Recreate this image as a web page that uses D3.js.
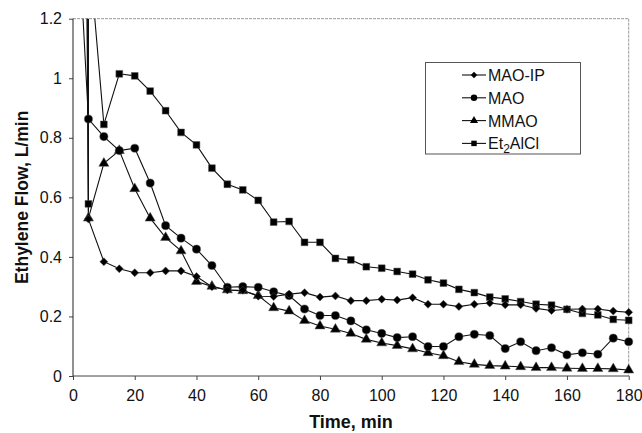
<!DOCTYPE html>
<html>
<head>
<meta charset="utf-8">
<script src="https://cdn.jsdelivr.net/npm/d3@7"></script>
<style>
  body { margin: 0; background: #fff; }
  text { font-family: "Liberation Sans", Arial, sans-serif; fill: #111; }
</style>
</head>
<body>
<div id="container"></div>
<script>
let w = 642;
let h = 433;

// sampling times (min)
let times = [5, 10, 15, 20, 25, 30, 35, 40, 45, 50, 55, 60, 65, 70, 75, 80, 85, 90,
  95, 100, 105, 110, 115, 120, 125, 130, 135, 140, 145, 150, 155, 160, 165, 170, 175, 180];

// ethylene flow, L/min
let maoIP = [0.527, 0.384, 0.36, 0.347, 0.347, 0.353, 0.353, 0.334, 0.30, 0.289, 0.288, 0.268,
  0.267, 0.275, 0.28, 0.265, 0.269, 0.253, 0.253, 0.258, 0.255, 0.263, 0.241, 0.241,
  0.233, 0.241, 0.245, 0.239, 0.239, 0.227, 0.22, 0.224, 0.225, 0.225, 0.218, 0.214];
let mao = [0.863, 0.804, 0.757, 0.765, 0.648, 0.505, 0.463, 0.426, 0.371, 0.298, 0.30, 0.298,
  0.283, 0.27, 0.225, 0.203, 0.203, 0.185, 0.155, 0.143, 0.129, 0.132, 0.099, 0.099,
  0.132, 0.14, 0.136, 0.092, 0.115, 0.085, 0.095, 0.071, 0.078, 0.073, 0.127, 0.115];
let mmao = [0.53, 0.714, 0.757, 0.629, 0.53, 0.465, 0.42, 0.317, 0.301, 0.289, 0.286, 0.27,
  0.229, 0.218, 0.186, 0.168, 0.157, 0.143, 0.123, 0.111, 0.102, 0.091, 0.078, 0.068,
  0.048, 0.039, 0.035, 0.033, 0.031, 0.028, 0.028, 0.026, 0.025, 0.025, 0.024, 0.02];
let et2alcl = [0.578, 0.845, 1.015, 1.008, 0.957, 0.891, 0.818, 0.776, 0.698, 0.644, 0.625, 0.59,
  0.517, 0.519, 0.449, 0.449, 0.395, 0.39, 0.367, 0.362, 0.351, 0.342, 0.323, 0.312,
  0.291, 0.28, 0.265, 0.259, 0.25, 0.241, 0.238, 0.224, 0.21, 0.205, 0.19, 0.187];

// early off-scale readings, [time, flow]
let maoIPStart = [[0, 10]];
let maoStart = [[0, 1.83]];
let mmaoStart = [[0, 8]];
let et2alclStart = [[5, 1.45]];   // spike between the 5 and 10 min points

let seriesNames = ["MAO-IP", "MAO", "MMAO", "Et2AlCl"];
let seriesShapes = ["diamond", "circle", "triangle", "square"];

let xTicks = [0, 20, 40, 60, 80, 100, 120, 140, 160, 180];
let yTicks = [0, 0.2, 0.4, 0.6, 0.8, 1, 1.2];

let padLeft = 73, padRight = 628.7, padTop = 18.7, padBottom = 376;

let viz = d3.select("#container")
  .append("svg")
    .attr("width", w)
    .attr("height", h)
;

let xScale = d3.scaleLinear().domain([0, 180]).range([padLeft, padRight]);
let yScale = d3.scaleLinear().domain([0, 1.2]).range([padBottom, padTop]);

// plot frame: dotted grey top/right as in the scan
viz.append("line")
  .attr("x1", padLeft).attr("x2", padRight).attr("y1", padTop).attr("y2", padTop)
  .attr("stroke", "#999").attr("stroke-width", 1).attr("stroke-dasharray", "3,1");
viz.append("line")
  .attr("x1", padRight).attr("x2", padRight).attr("y1", padTop).attr("y2", padBottom)
  .attr("stroke", "#999").attr("stroke-width", 1).attr("stroke-dasharray", "3,1");

// axes
let xAxis = d3.axisBottom(xScale).tickValues(xTicks).tickSize(4).tickPadding(10).tickFormat(d3.format("d"));
let xAxisGroup = viz.append("g").attr("class", "xaxis")
  .attr("transform", "translate(0, " + padBottom + ")")
  .call(xAxis);
let yAxis = d3.axisLeft(yScale).tickValues(yTicks).tickSize(4).tickPadding(7).tickFormat(d3.format("~g"));
let yAxisGroup = viz.append("g").attr("class", "yaxis")
  .attr("transform", "translate(" + padLeft + ", 0)")
  .call(yAxis);

xAxisGroup.select(".domain").remove();
yAxisGroup.select(".domain").remove();
viz.append("line")
  .attr("x1", padLeft).attr("x2", padRight).attr("y1", padBottom).attr("y2", padBottom)
  .attr("stroke", "#444");
viz.append("line")
  .attr("x1", padLeft).attr("x2", padLeft).attr("y1", padTop).attr("y2", padBottom)
  .attr("stroke", "#222");
viz.selectAll(".tick line").attr("stroke", "#444");
viz.selectAll(".tick text").attr("font-size", "16px").attr("font-family", "Liberation Sans, Arial, sans-serif").attr("fill", "#111");

// axis titles
viz.append("text")
  .text("Time, min")
  .attr("x", 351)
  .attr("y", 428)
  .attr("text-anchor", "middle")
  .attr("font-size", "18px")
  .attr("font-weight", "bold");
viz.append("text")
  .text("Ethylene Flow, L/min")
  .attr("transform", "translate(28, " + ((padTop + padBottom) / 2) + ") rotate(-90)")
  .attr("text-anchor", "middle")
  .attr("font-size", "17.5px")
  .attr("font-weight", "bold");

// clip at the top of the plot (values above 1.2 run off)
viz.append("clipPath").attr("id", "plotclip")
  .append("rect")
    .attr("x", padLeft - 10).attr("y", padTop)
    .attr("width", padRight - padLeft + 20).attr("height", padBottom - padTop + 10);

function markerPath(shape) {
  if (shape == "diamond") return "M0,-4L4,0L0,4L-4,0Z";
  if (shape == "circle") return d3.symbol(d3.symbolCircle, 52)();
  if (shape == "triangle") return d3.symbol(d3.symbolTriangle, 44)();
  return d3.symbol(d3.symbolSquare, 46)();
}

function buildSeries(values, start) {
  let pts = times.map(function(t, i){ return [t, values[i]]; });
  start.forEach(function(s){
    // insert the extra reading right after any point with the same time
    let idx = pts.findIndex(function(p){ return p[0] > s[0]; });
    if (idx < 0) idx = pts.length;
    pts.splice(idx, 0, [s[0], s[1], true]);
  });
  return pts;
}

let allSeries = [
  buildSeries(maoIP, maoIPStart),
  buildSeries(mao, maoStart),
  buildSeries(mmao, mmaoStart),
  buildSeries(et2alcl, et2alclStart)
];

let line = d3.line()
  .x(function(d){ return xScale(d[0]); })
  .y(function(d){ return yScale(d[1]); });

let vizGroup = viz.append("g").attr("class", "vizGroup").attr("clip-path", "url(#plotclip)");

// lines first, then markers on top
allSeries.forEach(function(pts, k){
  vizGroup.append("path")
    .datum(pts)
    .attr("d", line)
    .attr("fill", "none")
    .attr("stroke", "#111")
    .attr("stroke-width", 1.1);
});

// markers drawn last series first so MAO-IP ends up on top
[3, 2, 1, 0].forEach(function(k){
  let pts = allSeries[k];
  vizGroup.selectAll(".m" + k)
    .data(pts.filter(function(p){ return !p[2] && p[1] <= 1.2; }))
    .enter()
    .append("path")
      .attr("class", "m" + k)
      .attr("d", markerPath(seriesShapes[k]))
      .attr("transform", function(d){ return "translate(" + xScale(d[0]) + ", " + yScale(d[1]) + ")"; })
      .attr("fill", "#000")
      .attr("stroke", "#555")
      .attr("stroke-width", 0.5);
});

// legend
let legend = viz.append("g").attr("class", "legend");
legend.append("rect")
  .attr("x", 425.5).attr("y", 62.5)
  .attr("width", 155).attr("height", 91.5)
  .attr("fill", "#fff")
  .attr("stroke", "#555")
  .attr("stroke-width", 1);

seriesNames.forEach(function(name, k){
  let y = 75 + k * 22.8;
  legend.append("line")
    .attr("x1", 462).attr("x2", 486).attr("y1", y).attr("y2", y)
    .attr("stroke", "#111").attr("stroke-width", 1.1);
  legend.append("path")
    .attr("d", markerPath(seriesShapes[k]))
    .attr("transform", "translate(474, " + y + ") scale(0.8)")
    .attr("fill", "#000");
  let t = legend.append("text")
    .attr("x", 488)
    .attr("y", y + 6)
    .attr("font-size", "16px");
  if (name == "Et2AlCl") {
    t.append("tspan").text("Et");
    t.append("tspan").text("2").attr("font-size", "12px").attr("dy", 4);
    t.append("tspan").text("AlCl").attr("dy", -4);
  } else {
    t.text(name);
  }
});
</script>
</body>
</html>
